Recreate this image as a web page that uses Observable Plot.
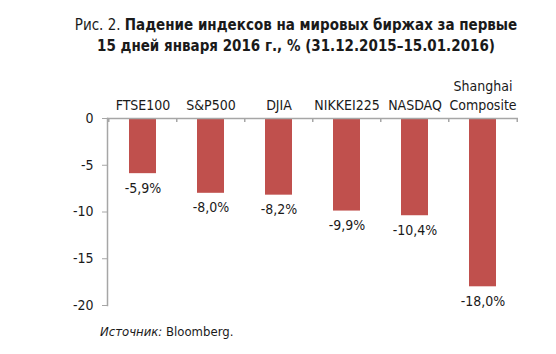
<!DOCTYPE html>
<html><head><meta charset="utf-8">
<script src="https://cdn.jsdelivr.net/npm/d3@7"></script>
<script src="https://cdn.jsdelivr.net/npm/@observablehq/plot@0.6"></script>
<style>
body{margin:0;background:#fff;}
#wrap{position:relative;width:556px;height:354px;overflow:hidden;font-family:"Liberation Sans Narrow","DejaVu Sans Condensed","Roboto",sans-serif;color:#1a1a1a;}
#title{position:absolute;left:36px;top:15px;width:520px;text-align:center;font-size:15px;line-height:21px;font-stretch:condensed;}
#title b{font-weight:bold;}
#chart{position:absolute;left:0;top:60px;}
#caption{position:absolute;left:100px;top:324px;font-size:13px;}
</style></head>
<body><div id="wrap">
<div id="title">Рис. 2. <b>Падение индексов на мировых биржах за первые<br>15 дней января 2016 г., % (31.12.2015–15.01.2016)</b></div>
<div id="chart"></div>
<div id="caption"><i>Источник:</i> Bloomberg.</div>
</div>
<script>
const categories = ["FTSE100","S&P500","DJIA","NIKKEI225","NASDAQ","Shanghai\nComposite"];
const values = [-5.9,-8.0,-8.2,-9.9,-10.4,-18.0];
const yTicks = [0,-5,-10,-15,-20];

const data = categories.map((c,i)=>({cat:c, v:values[i]}));
const W = 556, H = 260, mL = 107, mR = 38, mT = 58, mB = 15;
const step = (W - mL - mR) / categories.length;
const font = '"Liberation Sans Narrow","DejaVu Sans Condensed",Roboto,sans-serif';
const gray = "#a6a6a6";
const fmt = d => d.toFixed(1).replace(".", ",") + "%";

const plot = Plot.plot({
  width: W, height: H,
  marginLeft: mL, marginRight: mR, marginTop: mT, marginBottom: mB,
  style: {fontFamily: font, fontSize: "13px", color: "#1a1a1a", background: "#fff"},
  x: {domain: categories, paddingInner: 0.6, paddingOuter: 0.3, axis: null},
  y: {domain: [-20, 0], axis: null},
  marks: [
    Plot.barY(data, {x: "cat", y: "v", fill: "#c0504d"}),
    Plot.ruleY([0], {stroke: gray, strokeWidth: 1.5}),
    Plot.frame({anchor: "left", stroke: gray, strokeWidth: 1.5}),
    Plot.ruleX(categories, {x: d => d, y1: 0, y2: 0, insetBottom: -4, dx: -step/2, stroke: gray, strokeWidth: 1.5}),
    Plot.ruleX(categories.slice(-1), {x: d => d, y1: 0, y2: 0, insetBottom: -4, dx: step/2, stroke: gray, strokeWidth: 1.5}),
    Plot.axisY({ticks: yTicks, tickFormat: d => String(d), tickSize: 5, tickPadding: 9, stroke: gray, fill: "#1a1a1a", fontSize: 14, label: null}),
    Plot.text(data, {x: "cat", y: 0, text: "cat", lineAnchor: "bottom", dy: -9, fontSize: 14, fill: "#1a1a1a", lineHeight: 1.3}),
    Plot.text(data, {x: "cat", y: "v", text: d => fmt(d.v), lineAnchor: "top", dy: 9, fontSize: 14, fill: "#1a1a1a"})
  ]
});
document.getElementById("chart").appendChild(plot);
</script>
</body></html>
